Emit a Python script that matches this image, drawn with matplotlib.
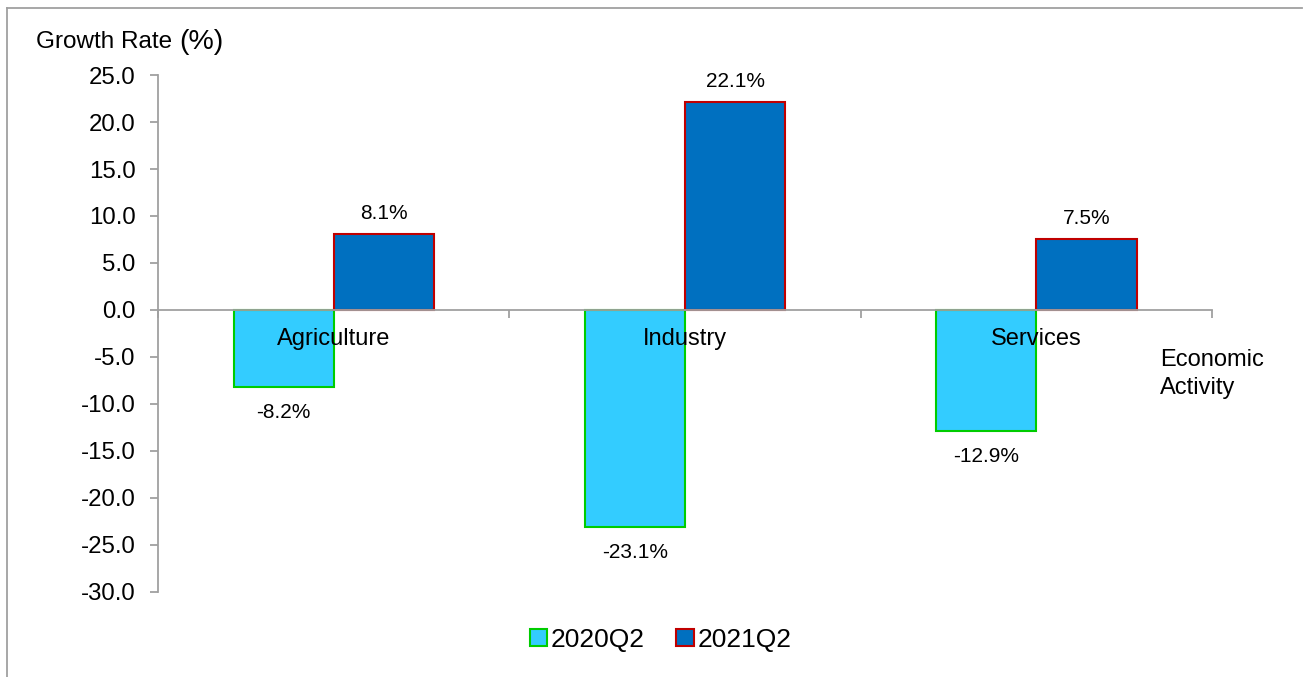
import numpy as np
import matplotlib.pyplot as plt
from matplotlib.lines import Line2D
from matplotlib.ticker import FormatStrFormatter

plt.rcParams['font.family'] = ['Liberation Sans', 'DejaVu Sans']

categories = ['Agriculture', 'Industry', 'Services']
q2_2020 = [-8.2, -23.1, -12.9]
q2_2021 = [8.1, 22.1, 7.5]
labels = ['2020Q2', '2021Q2']

fig = plt.figure(figsize=(13.03, 6.77), dpi=100)
ax = fig.add_axes([0.1213, 0.1256, 0.8089, 0.7636])

x = np.arange(len(categories))
w = 0.285
b1 = ax.bar(x - w / 2, q2_2020, w, color='#33CCFF', edgecolor='#00CC00', linewidth=1.5, label=labels[0])
b2 = ax.bar(x + w / 2, q2_2021, w, color='#0070C0', edgecolor='#C00000', linewidth=1.5, label=labels[1])

# value labels above/below bars
for bars, vals in ((b1, q2_2020), (b2, q2_2021)):
    for bar, v in zip(bars, vals):
        cx = bar.get_x() + bar.get_width() / 2
        off = 15 if v > 0 else -18
        ax.annotate(f'{v:.1f}%', (cx, v), xytext=(0, off), textcoords='offset points',
                    ha='center', va='center', fontsize=15)

# category names just below the zero line
for xi, name in zip(x, categories):
    ax.annotate(name, (xi, 0), xytext=(0, -21), textcoords='offset points',
                ha='center', va='center', fontsize=17)

ax.set_xlim(-0.5, 2.5)
ax.set_ylim(-30, 25)
ax.set_yticks(np.arange(-30, 26, 5))
ax.yaxis.set_major_formatter(FormatStrFormatter('%.1f'))
ax.set_xticks([-0.5, 0.5, 1.5, 2.5])
ax.set_xticklabels([])

for s in ('top', 'right'):
    ax.spines[s].set_visible(False)
ax.spines['bottom'].set_position(('data', 0))
ax.spines['bottom'].set_color('#A0A0A0')
ax.spines['left'].set_color('#A0A0A0')
ax.spines['bottom'].set_linewidth(1.3)
ax.spines['left'].set_linewidth(1.3)
ax.tick_params(axis='y', direction='out', length=6, width=1.3, color='#A0A0A0', labelsize=17.3, pad=10)
ax.tick_params(axis='x', direction='out', length=6, width=1.3, color='#A0A0A0')

fig.text(0.0276, 0.938, 'Growth Rate ', fontsize=17.5, va='center', ha='left')
fig.text(0.1372, 0.938, '(%)', fontsize=20.5, va='center', ha='left')
fig.text(0.890, 0.448, 'Economic\nActivity', fontsize=17, va='center', ha='left', linespacing=1.35)

fig.legend(handles=[b1, b2], labels=labels, loc='center', bbox_to_anchor=(0.507, 0.055),
           ncol=2, frameon=False, fontsize=19, handlelength=0.65, handleheight=0.65,
           handletextpad=0.15, columnspacing=1.2)

# outer frame lines (left and top)
fig.add_artist(Line2D([0.005, 0.005], [0.0, 0.988], transform=fig.transFigure, color='#A0A0A0', lw=1.3))
fig.add_artist(Line2D([0.005, 0.999], [0.988, 0.988], transform=fig.transFigure, color='#A0A0A0', lw=1.3))

fig.savefig('out.png', dpi=100)
